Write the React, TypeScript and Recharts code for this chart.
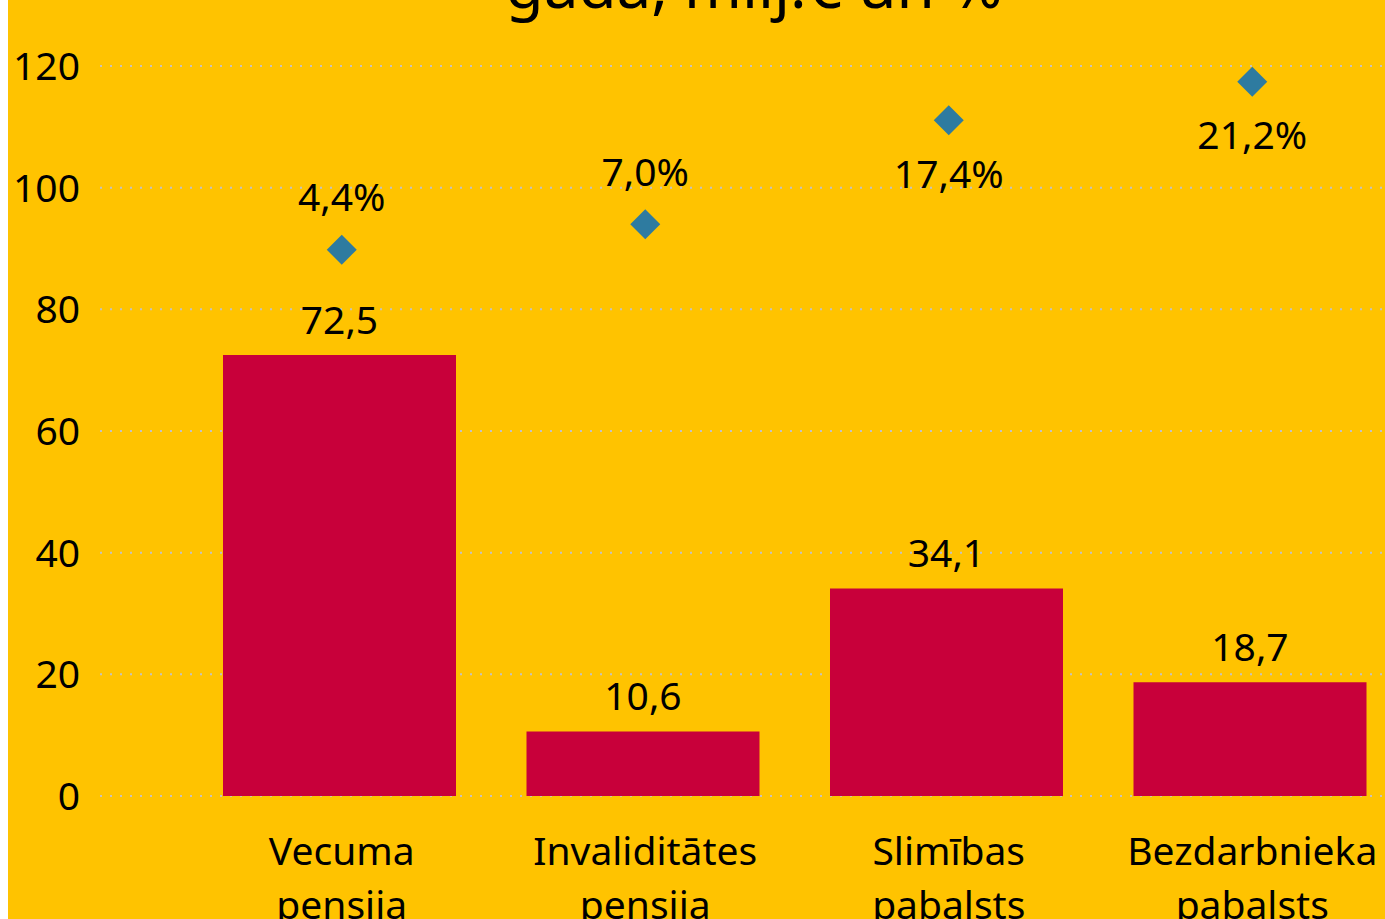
import { Bar, CartesianGrid, ComposedChart, LabelList, Scatter, XAxis, YAxis } from "recharts";

const categories = ["Vecuma pensija", "Invaliditātes pensija", "Slimības pabalsts", "Bezdarbnieka pabalsts"];
const amounts = [72.5, 10.6, 34.1, 18.7];
const markerLevels = [89.8, 94.0, 111.1, 117.4];
const shares = ["4,4%", "7,0%", "17,4%", "21,2%"];
const yTicks = [0, 20, 40, 60, 80, 100, 120];
const title = "gadā, milj.€ un %";

// label sits above the diamond for the first two, below for the last two
const shareAbove = [true, true, false, false];

const FONT = "'Noto Sans', sans-serif";
const FS = 39;
const BG = "#FFC300";
const BAR = "#C8003A";
const DOT = "#2E7BA0";

const data = categories.map((name, i) => ({
  name,
  amount: amounts[i],
  marker: markerLevels[i],
  share: shares[i],
  above: shareAbove[i],
}));

function CategoryTick(props: any) {
  const { x, y, payload } = props;
  const words = String(payload.value).split(" ");
  return (
    <g>
      {words.map((w, i) => (
        <text
          key={i}
          x={x + 2}
          y={y + 67 + i * 54}
          textAnchor="middle"
          fontSize={FS}
          fontFamily={FONT}
          fill="#000"
        >
          {w}
        </text>
      ))}
    </g>
  );
}

function Diamond(props: any) {
  const { cx, cy, payload } = props;
  const r = 15;
  const x = cx + 2;
  const ty = payload.above ? cy - 52 : cy + 54;
  return (
    <g>
      <polygon
        points={`${x},${cy - r} ${x + r},${cy} ${x},${cy + r} ${x - r},${cy}`}
        fill={DOT}
      />
      <text x={x} y={ty} dy="0.35em" textAnchor="middle" fontSize={FS} fontFamily={FONT} fill="#000">
        {payload.share}
      </text>
    </g>
  );
}

function AmountLabel(props: any) {
  const { x, y, width, value } = props;
  return (
    <text
      x={x + width / 2}
      y={y - 35}
      dy="0.35em"
      textAnchor="middle"
      fontSize={FS}
      fontFamily={FONT}
      fill="#000"
    >
      {Number(value).toFixed(1).replace(".", ",")}
    </text>
  );
}

export default function App() {
  return (
    <div
      style={{
        position: "absolute",
        top: 0,
        left: 8,
        width: 1377,
        height: 919,
        overflow: "hidden",
        background: BG,
        fontFamily: FONT,
      }}
    >
      <svg
        width={1420}
        height={40}
        style={{ position: "absolute", top: 0, left: 0, pointerEvents: "none" }}
      >
        <text x={746} y={8} textAnchor="middle" fontSize={62} fontFamily={FONT} fill="#000">
          {title}
        </text>
      </svg>
      <ComposedChart
        width={1420}
        height={960}
        data={data}
        margin={{ top: 66, right: 26, left: 0, bottom: 0 }}
      >
        <CartesianGrid vertical={false} stroke="#c2c2c2" strokeWidth={2} strokeDasharray="2 8" />
        <XAxis
          dataKey="name"
          axisLine={false}
          tickLine={false}
          tickSize={0}
          interval={0}
          height={164}
          padding={{ left: 88, right: 0 }}
          tick={<CategoryTick />}
        />
        <YAxis
          domain={[0, 120]}
          ticks={yTicks}
          axisLine={false}
          tickLine={false}
          tickSize={0}
          tickMargin={20}
          width={92}
          tick={{ fill: "#000", fontSize: FS, fontFamily: FONT }}
        />
        <Bar dataKey="amount" fill={BAR} barSize={233} isAnimationActive={false}>
          <LabelList dataKey="amount" content={<AmountLabel />} />
        </Bar>
        <Scatter dataKey="marker" shape={<Diamond />} isAnimationActive={false} />
      </ComposedChart>
    </div>
  );
}
